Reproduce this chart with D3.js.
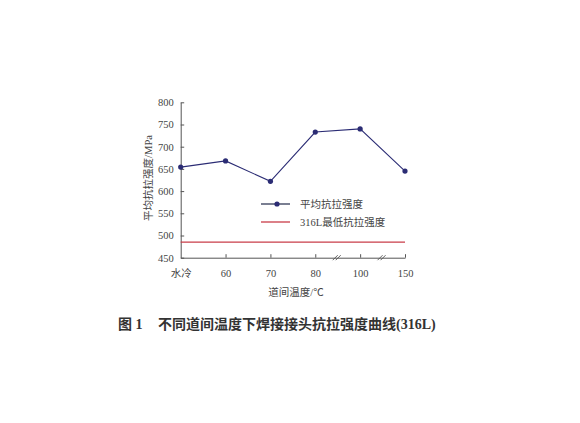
<!DOCTYPE html>
<html><head><meta charset="utf-8">
<script src="https://cdn.jsdelivr.net/npm/d3@7"></script>
<style>
body{margin:0;background:#fff;}
svg{display:block;}
</style></head>
<body>
<script>
const categories = ["水冷", "60", "70", "80", "100", "150"];
const avgStrength = [654, 668, 622, 733, 740, 645];
const minStrength316L = 485;
const yTicks = [450, 500, 550, 600, 650, 700, 750, 800];
const legendLabels = ["平均抗拉强度", "316L最低抗拉强度"];
const breakAfter = ["80", "100"];

const W = 580, H = 423;
const svg = d3.select("body").append("svg").attr("width", W).attr("height", H);
const serif = "'Liberation Serif','Noto Sans CJK SC',serif";
const cjk = "'Noto Sans CJK SC','Liberation Serif',sans-serif";
const navy = "#2b2c74", red = "#c93c48", axisCol = "#555";

const x = d3.scalePoint().domain(categories).range([180.7, 405]).padding(0);
const y = d3.scaleLinear().domain([450, 800]).range([257.7, 102.3]);

// Y axis
const ya = svg.append("g").attr("transform", `translate(${x.range()[0]},0)`)
  .call(d3.axisLeft(y).tickValues(yTicks).tickSizeInner(-3.5).tickSizeOuter(0).tickPadding(7));
ya.select(".domain").attr("stroke", axisCol);
ya.selectAll(".tick line").attr("stroke", axisCol);
ya.selectAll(".tick text").attr("font-family", serif).attr("font-size", 10.5).attr("fill", "#444");

// X axis
const xa = svg.append("g").attr("transform", `translate(0,${y(450)})`)
  .call(d3.axisBottom(x).tickSizeInner(-3.5).tickSizeOuter(0).tickPadding(12));
xa.select(".domain").attr("stroke", axisCol);
xa.selectAll(".tick line").attr("stroke", axisCol).attr("display", (d, i) => i === 0 ? "none" : null);
xa.selectAll(".tick text").attr("font-family", (d) => isNaN(+d) ? cjk : serif)
  .attr("font-size", (d) => isNaN(+d) ? 10.5 : 10.5).attr("fill", "#444");

// Axis break marks
breakAfter.forEach((c) => {
  const i = categories.indexOf(c);
  const xm = (x(c) + x(categories[i + 1])) / 2 - 1;
  [-1.5, 1.5].forEach((o) => {
    svg.append("line")
      .attr("x1", xm + o - 2.5).attr("y1", y(450) + 2.5)
      .attr("x2", xm + o + 2.5).attr("y2", y(450) - 2.5)
      .attr("stroke", axisCol).attr("stroke-width", 0.9);
  });
});

// Threshold line
svg.append("line")
  .attr("x1", x(categories[0])).attr("x2", x(categories[categories.length - 1]))
  .attr("y1", y(minStrength316L)).attr("y2", y(minStrength316L))
  .attr("stroke", red).attr("stroke-width", 1.3);

// Average line
svg.append("path").datum(avgStrength)
  .attr("fill", "none").attr("stroke", navy).attr("stroke-width", 1.1)
  .attr("d", d3.line().x((d, i) => x(categories[i])).y((d) => y(d)));
svg.selectAll("circle.pt").data(avgStrength).join("circle")
  .attr("class", "pt").attr("cx", (d, i) => x(categories[i])).attr("cy", (d) => y(d))
  .attr("r", 2.6).attr("fill", navy);

// Legend
const lg = svg.append("g");
lg.append("line").attr("x1", 261).attr("x2", 290).attr("y1", 204).attr("y2", 204).attr("stroke", "#222a4a").attr("stroke-width", 1.2);
lg.append("circle").attr("cx", 277).attr("cy", 204).attr("r", 2.6).attr("fill", navy);
lg.append("line").attr("x1", 261).attr("x2", 290).attr("y1", 222).attr("y2", 222).attr("stroke", red).attr("stroke-width", 1.3);
lg.selectAll("text").data(legendLabels).join("text")
  .attr("x", 300).attr("y", (d, i) => 204 + i * 18).attr("dy", "0.35em")
  .attr("font-family", serif).attr("font-size", 10.5).attr("fill", "#444").text((d) => d);

// Axis titles
svg.append("text").attr("transform", "translate(148,178) rotate(-90)")
  .attr("text-anchor", "middle").attr("dy", "0.35em")
  .attr("font-family", serif).attr("font-size", 10.5).attr("fill", "#444").text("平均抗拉强度/MPa");
svg.append("text").attr("x", 296).attr("y", 292).attr("text-anchor", "middle").attr("dy", "0.35em")
  .attr("font-family", serif).attr("font-size", 10.5).attr("fill", "#444").text("道间温度/℃");

// Caption
const cap = svg.append("text").attr("y", 324).attr("dy", "0.35em")
  .attr("font-family", serif).attr("font-size", 14).attr("font-weight", "bold").attr("fill", "#333");
cap.append("tspan").attr("x", 118).text("图 1");
cap.append("tspan").attr("x", 158).text("不同道间温度下焊接接头抗拉强度曲线(316L)");
</script>
</body></html>
